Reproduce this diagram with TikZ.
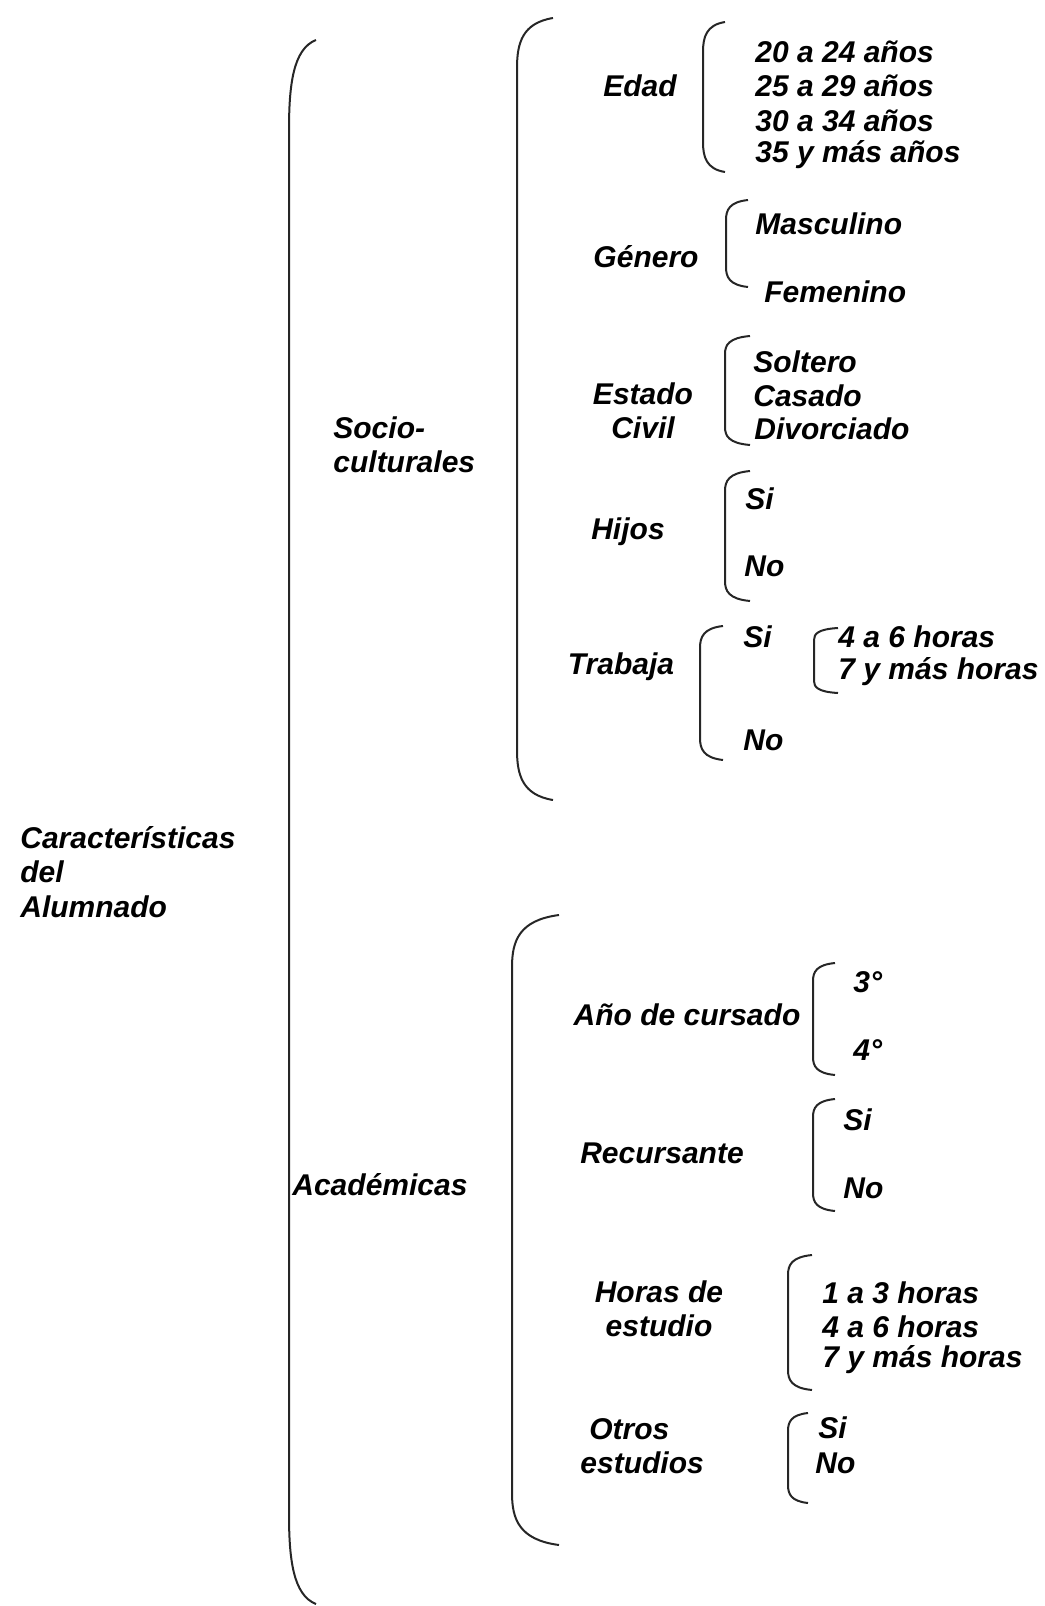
\documentclass[tikz,border=0pt]{standalone}
\usepackage{fontspec}
\setmainfont{Liberation Sans}
% llave: x, top, bottom, tip width, curl height
\newcommand{\llave}[5]{%
  \draw[brace] (#1+#4,#2) .. controls (#1+0.15*#4,#2+0.1*#5) and (#1,#2+0.5*#5) .. (#1,#2+#5)
    -- (#1,#3-#5) .. controls (#1,#3-0.5*#5) and (#1+0.15*#4,#3-0.1*#5) .. (#1+#4,#3);}

\begin{document}
\begin{tikzpicture}[x=0.5pt,y=-0.5pt,
  every node/.style={font=\fontsize{15}{17.2}\selectfont\bfseries\itshape, inner sep=0pt},
  item/.style={anchor=west},
  cat/.style={align=center},
  brace/.style={line width=1pt, black!85}]
\useasboundingbox (0,0) rectangle (1044,1606);

\node (car) [anchor=west, align=left] at (20,872) {Características\\del\\Alumnado};
\node (soc) [anchor=west, align=left] at (333,445) {Socio-\\culturales};
\node (aca) [anchor=west] at (292,1185) {Académicas};

% Socioculturales
\node (edad) [cat] at (640,86) {Edad};
\node (e1) [item] at (755,52) {20 a 24 años};
\node (e2) [item] at (755,86) {25 a 29 años};
\node (e3) [item] at (755,121) {30 a 34 años};
\node (e4) [item] at (755,155) {35 y más años};

\node (gen) [cat] at (646,257) {Género};
\node (g1) [item] at (755,224) {Masculino};
\node (g2) [item] at (764,292) {Femenino};

\node (civ) [cat] at (643,411) {Estado\\Civil};
\node (c1) [item] at (753,362) {Soltero};
\node (c2) [item] at (753,396) {Casado};
\node (c3) [item] at (754,429) {Divorciado};

\node (hij) [cat] at (628,532) {Hijos};
\node (h1) [item] at (745,499) {Si};
\node (h2) [item] at (744,566) {No};

\node (tra) [cat] at (621,667) {Trabaja};
\node (t1) [item] at (743,637) {Si};
\node (t2) [item] at (743,740) {No};
\node (t11) [item] at (838,637) {4 a 6 horas};
\node (t12) [item] at (838,672) {7 y más horas};

% Academicas
\node (ano) [cat] at (687,1015) {Año de cursado};
\node (a1) [item] at (853,982) {3°};
\node (a2) [item] at (853,1050) {4°};

\node (rec) [cat] at (662,1153) {Recursante};
\node (r1) [item] at (843,1120) {Si};
\node (r2) [item] at (843,1188) {No};

\node (hor) [cat] at (659,1309) {Horas de\\estudio};
\node (o1) [item] at (822,1293) {1 a 3 horas};
\node (o2) [item] at (822,1327) {4 a 6 horas};
\node (o3) [item] at (822,1360) {7 y más horas};

\node (otr) [anchor=west, align=left] at (580,1446) {\hspace{4.5pt}Otros\\estudios};
\node (s1) [item] at (818,1428) {Si};
\node (s2) [item] at (815,1463) {No};

% llaves
\llave{289}{40}{1604}{27}{90}
\llave{517}{18}{800}{36}{50}
\llave{512}{915}{1545}{47}{52}
\llave{703}{22}{172}{22}{30}
\llave{726}{200}{287}{22}{20}
\llave{725}{336}{445}{25}{18}
\llave{725}{471}{601}{25}{20}
\llave{700}{626}{760}{23}{22}
\llave{814}{628}{693}{24}{12}
\llave{813}{963}{1075}{22}{18}
\llave{813}{1099}{1211}{22}{18}
\llave{788}{1255}{1390}{24}{20}
\llave{788}{1413}{1503}{20}{18}
\end{tikzpicture}
\end{document}
